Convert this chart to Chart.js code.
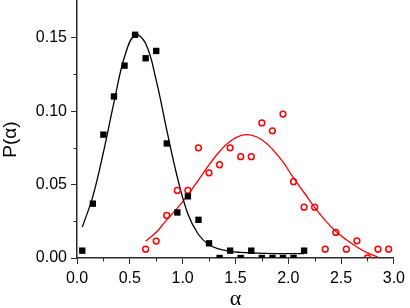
<!DOCTYPE html>
<html>
<head>
<meta charset="utf-8">
<script src="https://cdn.jsdelivr.net/npm/chart.js"></script>
<style>
  html, body { margin: 0; padding: 0; background: #fff; }
</style>
</head>
<body>
<canvas id="chart" width="410" height="308"></canvas>
<script>
// measured distribution, black squares
var sqX = [0.05, 0.15, 0.25, 0.35, 0.45, 0.55, 0.65, 0.75, 0.85, 0.95, 1.05,
           1.15, 1.25, 1.35, 1.45, 1.55, 1.65, 1.75, 1.85, 1.95, 2.05, 2.15];
var sqY = [0.005, 0.037, 0.084, 0.110, 0.131, 0.152, 0.136, 0.141, 0.078, 0.031, 0.042,
           0.026, 0.010, 0.0, 0.005, 0.0, 0.005, 0.0, 0.0, 0.0, 0.0, 0.005];

// measured distribution, red open circles
var ciX = [0.65, 0.75, 0.85, 0.95, 1.05, 1.15, 1.25, 1.35, 1.45, 1.55, 1.65, 1.75,
           1.85, 1.95, 2.05, 2.15, 2.25, 2.35, 2.45, 2.55, 2.65, 2.75, 2.85, 2.95];
var ciY = [0.006, 0.0115, 0.029, 0.046, 0.046, 0.075, 0.058, 0.0635, 0.075, 0.069, 0.069, 0.092,
           0.0866, 0.098, 0.052, 0.0346, 0.0346, 0.006, 0.0174, 0.006, 0.0117, 0.0, 0.006, 0.006];

// fitted curves
var fitBlackX = [0.05, 0.15, 0.25, 0.35, 0.45, 0.55, 0.65, 0.75, 0.85, 0.95, 1.05,
                 1.15, 1.25, 1.35, 1.45, 1.55, 1.65, 1.75, 1.85, 1.95, 2.05, 2.15];
var fitBlackY = [0.021, 0.042, 0.072, 0.106, 0.137, 0.152, 0.146, 0.121, 0.087, 0.055, 0.030,
                 0.016, 0.009, 0.006, 0.0045, 0.0038, 0.0034, 0.0032, 0.003, 0.003, 0.003, 0.003];
var fitRedX = [0.65, 0.75, 0.85, 0.95, 1.05, 1.15, 1.25, 1.35, 1.45, 1.55, 1.65, 1.75,
               1.85, 1.95, 2.05, 2.15, 2.25, 2.35, 2.45, 2.55, 2.65, 2.75, 2.85];
var fitRedY = [0.0114, 0.0175, 0.026, 0.034, 0.043, 0.0531, 0.0634, 0.0725, 0.0795, 0.0833, 0.0837, 0.0805,
               0.0741, 0.0654, 0.0545, 0.0446, 0.0345, 0.0256, 0.0182, 0.0124, 0.0075, 0.0035, 0.0005];

var xTicks = [0, 0.5, 1.0, 1.5, 2.0, 2.5, 3.0];
var yTicks = [0, 0.05, 0.10, 0.15];
var xMinor = [0.25, 0.75, 1.25, 1.75, 2.25, 2.75];
var yMinor = [0.025, 0.075, 0.125];

function pts(xs, ys) {
  return xs.map(function (x, i) { return { x: x, y: ys[i] }; });
}

var axisColor = '#2b2b2b';
var family = '"Liberation Sans", Arial, sans-serif';

// small ticks between the labelled ones, plus the y title (sits a bit below centre)
var extras = {
  id: 'extras',
  afterDraw: function (chart) {
    var ctx = chart.ctx, x = chart.scales.x, y = chart.scales.y;
    ctx.save();
    ctx.strokeStyle = axisColor;
    ctx.lineWidth = 1;
    xMinor.forEach(function (v) {
      var px = Math.round(x.getPixelForValue(v)) + 0.5;
      ctx.beginPath(); ctx.moveTo(px, x.top); ctx.lineTo(px, x.top + 3.5); ctx.stroke();
    });
    yMinor.forEach(function (v) {
      var py = Math.round(y.getPixelForValue(v)) + 0.5;
      ctx.beginPath(); ctx.moveTo(y.right, py); ctx.lineTo(y.right - 3.5, py); ctx.stroke();
    });
    ctx.translate(y.left + 11, (y.top + y.bottom) / 2 + 10);
    ctx.rotate(-Math.PI / 2);
    ctx.fillStyle = '#000';
    ctx.font = '19px ' + family;
    ctx.textAlign = 'center';
    ctx.textBaseline = 'middle';
    ctx.fillText('P(α)', 0, 0);
    ctx.restore();
  }
};

new Chart(document.getElementById('chart'), {
  type: 'scatter',
  data: {
    datasets: [
      {
        label: 'black',
        data: pts(sqX, sqY),
        pointStyle: 'rect',
        pointRadius: 4.5,
        backgroundColor: '#000',
        borderColor: '#000',
        borderWidth: 0
      },
      {
        label: 'red',
        data: pts(ciX, ciY),
        pointStyle: 'circle',
        pointRadius: 2.9,
        backgroundColor: 'rgba(255,255,255,0)',
        borderColor: '#ff0000',
        borderWidth: 1.5
      },
      {
        label: 'black fit',
        data: pts(fitBlackX, fitBlackY),
        showLine: true,
        tension: 0.4,
        pointRadius: 0,
        borderColor: '#000',
        borderWidth: 1.3
      },
      {
        label: 'red fit',
        data: pts(fitRedX, fitRedY),
        showLine: true,
        tension: 0.4,
        pointRadius: 0,
        borderColor: '#ff0000',
        borderWidth: 1.3
      }
    ]
  },
  options: {
    responsive: false,
    animation: false,
    devicePixelRatio: 1,
    layout: { autoPadding: false, padding: { left: 0, right: 14, top: 1, bottom: 0 } },
    plugins: {
      legend: { display: false },
      tooltip: { enabled: false }
    },
    scales: {
      x: {
        type: 'linear',
        min: 0,
        max: 3,
        afterBuildTicks: function (s) { s.ticks = xTicks.map(function (v) { return { value: v }; }); },
        afterFit: function (s) { s.height = 50; },
        grid: { drawOnChartArea: false, tickLength: 6, tickColor: axisColor, tickWidth: 1 },
        border: { color: axisColor, width: 1.5 },
        ticks: {
          color: '#000',
          padding: 5,
          maxRotation: 0,
          font: { family: family, size: 16 },
          callback: function (v) { return Number(v).toFixed(1); }
        },
        title: {
          display: true,
          text: 'α',
          color: '#000',
          padding: { top: 0, bottom: -4 },
          font: { family: '"Liberation Serif", "Times New Roman", serif', size: 22 }
        }
      },
      y: {
        type: 'linear',
        min: 0,
        max: 0.175,
        afterBuildTicks: function (s) { s.ticks = yTicks.map(function (v) { return { value: v }; }); },
        afterFit: function (s) { s.width = 77; s.paddingTop = 0; s.paddingBottom = 0; },
        grid: { drawOnChartArea: false, tickLength: 6, tickColor: axisColor, tickWidth: 1 },
        border: { color: axisColor, width: 1.5 },
        ticks: {
          color: '#000',
          padding: 4,
          font: { family: family, size: 16 },
          callback: function (v) { return Number(v).toFixed(2); }
        }
      }
    }
  },
  plugins: [extras]
});
</script>
</body>
</html>
